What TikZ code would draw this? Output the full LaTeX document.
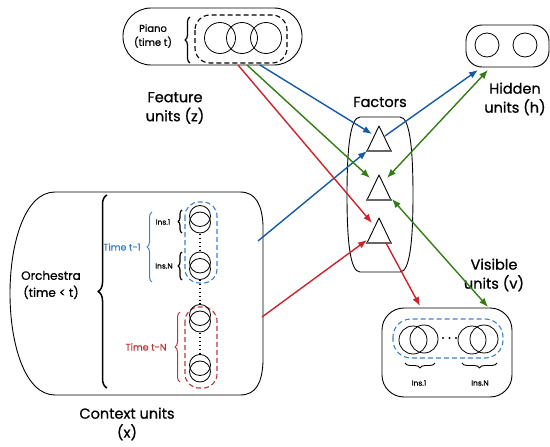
\documentclass[tikz,border=0pt]{standalone}
\usepackage{fontspec}
\setmainfont{Poppins}[UprightFeatures={FakeBold=0.8}]
\usetikzlibrary{arrows.meta,decorations.pathreplacing}
\definecolor{arrblue}{RGB}{20,90,165}
\definecolor{arrgreen}{RGB}{50,125,20}
\definecolor{arrred}{RGB}{205,35,45}
\definecolor{dblue}{RGB}{60,130,200}
\definecolor{dred}{RGB}{185,55,55}
\begin{document}
\begin{tikzpicture}[x=1pt,y=-1pt,line join=round,
  box/.style={draw=black,line width=0.9pt},
  unit/.style={draw=black,line width=0.8pt},
  dbox/.style={line width=1.1pt,dash pattern=on 5pt off 3pt},
  lbl/.style={font=\fontsize{14.5}{19}\selectfont,align=center,inner sep=0pt},
  small/.style={font=\fontsize{10}{14}\selectfont,align=center,inner sep=0pt},
  tiny/.style={font=\fontsize{7.5}{9}\selectfont,inner sep=0pt},
  brc/.style={decorate,decoration={brace,amplitude=#1},line width=1pt},
  conn/.style={line width=1.4pt,-{Latex[length=9pt,width=7pt]}},
  conn2/.style={line width=1.4pt,{Latex[length=9pt,width=7pt]}-{Latex[length=9pt,width=7pt]}},
  dots/.style={line width=1.3pt,dash pattern=on 1.3pt off 2.6pt}]
\useasboundingbox (0,0) rectangle (550,447);

% ---------- Piano ----------
\draw[box,rounded corners=28pt] (123,8) rectangle (302,65);
\node[small] (piano) at (153,36) {Piano\\(time t)};
\draw[brc=5pt,line width=1.2pt] (190,63) -- (190,17);
\draw[dbox,draw=black,rounded corners=15pt] (195,15) rectangle (287,63);
\foreach \cx in {220,242,266} \draw[unit] (\cx,38) circle (15.5pt);
\coordinate (pR) at (238,65);
\coordinate (pG) at (247,65);
\coordinate (pB) at (260,65);

% ---------- Labels ----------
\node[lbl] (feat) at (175,108) {Feature\\units (z)};
\node[lbl] (fact) at (380,102) {Factors};
\node[lbl] (hidlbl) at (515,99) {Hidden\\units (h)};
\node[lbl] (vislbl) at (494,275) {Visible\\units (v)};
\node[lbl] (ctxlbl) at (127,424) {Context units\\(x)};

% ---------- Hidden ----------
\draw[box,rounded corners=16pt] (466,25) rectangle (549,67);
\draw[unit] (487,45) circle (12pt);
\draw[unit] (525,45) circle (12pt);
\coordinate (hB) at (478,70);
\coordinate (hG) at (488,70);

% ---------- Factors ----------
\draw[box] (360,117) -- (400,117)
  .. controls (410,117) and (413,150) .. (413,195)
  .. controls (413,240) and (410,272) .. (400,272) -- (360,272)
  .. controls (350,272) and (347,240) .. (347,195)
  .. controls (347,150) and (350,117) .. (360,117) -- cycle;
\foreach \ty [count=\i] in {126,175,218} {
  \draw[line width=0.9pt] (367,\ty+25) -- (379,\ty) -- (391,\ty+25);
  \draw[line width=1.5pt,draw=black!60] (366,\ty+25) -- (392,\ty+25);
}
\coordinate (t1L) at (372,134);
\coordinate (t1in) at (367,151);
\coordinate (t1out) at (385,136);
\coordinate (t2L) at (370,178);
\coordinate (t2R) at (387,178);
\coordinate (t2B) at (392,199);
\coordinate (t3L) at (372,223);
\coordinate (t3in) at (367,240);
\coordinate (t3out) at (386,243);

% ---------- Visible ----------
\draw[box,rounded corners=22pt] (382,308) rectangle (512,397);
\draw[dbox,draw=dblue,rounded corners=18pt] (393,319) rectangle (503,358);
\draw[unit] (413,340) circle (14pt);
\draw[unit] (424,339) circle (14pt);
\draw[unit] (472,340) circle (14pt);
\draw[unit] (484,339) circle (14pt);
\foreach \dx in {443,449.5,456} \fill (\dx,338) circle (1.2pt);
\draw[brc=5pt,line width=0.9pt] (435,363) -- (405,363);
\draw[brc=5pt,line width=0.9pt] (497,363) -- (462,363);
\node[tiny] (vi1) at (419,383) {Ins.1};
\node[tiny] (viN) at (480,383) {Ins.N};
\coordinate (vR) at (420,306);
\coordinate (vG) at (488,307);

% ---------- Context ----------
\draw[box] (55,192) -- (240,192)
  .. controls (256,192) and (262,205) .. (263,225) -- (263,362)
  .. controls (262,383) and (256,395) .. (240,395) -- (55,395)
  .. controls (-5,395) and (-5,192) .. (55,192) -- cycle;
\node[font=\fontsize{12}{17}\selectfont,align=center,inner sep=0pt] (orch) at (51,285) {Orchestra\\(time < t)};
\draw[brc=9pt,line width=1.5pt] (107,388) -- (107,195);
\node[font=\fontsize{9.5}{12}\selectfont,text=dblue,inner sep=0pt] (t1lbl) at (122,247) {Time t-1};
\draw[brc=5pt,draw=dblue] (152,282) -- (152,212);
\node[font=\fontsize{9.5}{12}\selectfont,text=dred,inner sep=0pt] (tNlbl) at (146,347) {Time t-N};
\draw[brc=5pt,draw=dred] (180,382) -- (180,312);
\node[tiny] (ci1) at (163,222) {Ins.1};
\node[tiny] (ciN) at (164,266) {Ins.N};
\draw[brc=4pt,line width=1.2pt] (182,233) -- (182,210);
\draw[brc=4pt,line width=1.2pt] (182,280) -- (182,252);
\draw[dbox,draw=dblue,rounded corners=14pt] (185,202) rectangle (217,283);
\draw[dbox,draw=dred,rounded corners=14pt] (185,307) rectangle (217,388);
\foreach \cy in {216,262.5,315,365} {
  \draw[unit] (200,\cy) circle (10.5pt);
  \draw[unit] (200,\cy+6.5) circle (10.5pt);
}
\draw[dots] (200,234) -- (200,252);
\draw[dots] (200,280) -- (200,305);
\draw[dots] (200,333) -- (200,355);
\coordinate (cB) at (258,241);
\coordinate (cR) at (262,317);

% ---------- Connectors ----------
\draw[conn,draw=arrblue,fill=arrblue] (pB) -- (t1L);
\draw[conn,draw=arrblue,fill=arrblue] (cB) -- (t1in);
\draw[conn,draw=arrblue,fill=arrblue] (t1out) -- (hB);
\draw[conn,draw=arrgreen,fill=arrgreen] (pG) -- (t2L);
\draw[conn2,draw=arrgreen,fill=arrgreen] (t2R) -- (hG);
\draw[conn2,draw=arrgreen,fill=arrgreen] (t2B) -- (vG);
\draw[conn,draw=arrred,fill=arrred] (pR) -- (t3L);
\draw[conn,draw=arrred,fill=arrred] (cR) -- (t3in);
\draw[conn,draw=arrred,fill=arrred] (t3out) -- (vR);
\end{tikzpicture}
\end{document}
